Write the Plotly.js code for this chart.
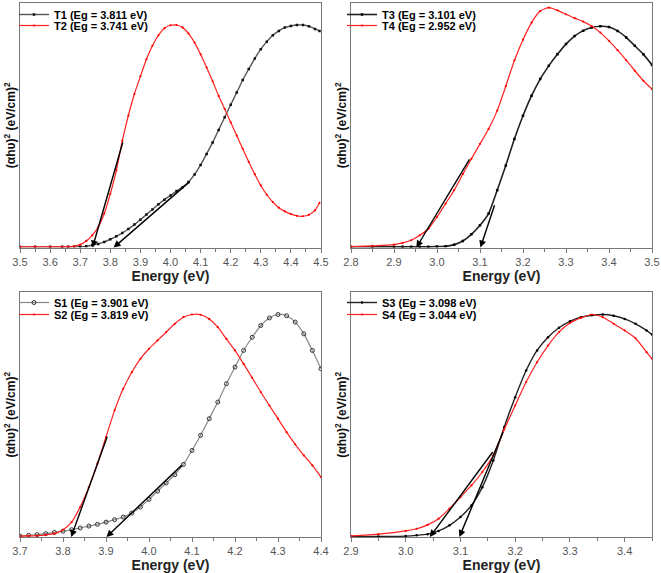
<!DOCTYPE html>
<html>
<head>
<meta charset="utf-8">
<script src="https://cdn.plot.ly/plotly-3.0.1.min.js"></script>
<style>html,body{margin:0;padding:0;background:#fff;}#chart{width:661px;height:573px;}</style>
</head>
<body>
<div id="chart"></div>
<script>
// ---------- Data (normalised (αhυ)^2, 0 = axis baseline, 1 = frame top) ----------
// Panel a (top-left): T1 / T2
const energyA = [3.50,3.55,3.60,3.64,3.66,3.68,3.70,3.72,3.74,3.76,3.78,3.80,3.82,3.84,3.86,3.88,3.90,3.92,3.94,3.96,3.98,4.00,4.02,4.04,4.06,4.08,4.10,4.12,4.14,4.16,4.18,4.20,4.22,4.24,4.26,4.28,4.30,4.32,4.34,4.36,4.38,4.40,4.42,4.44,4.46,4.48,4.495];
const t1 = [0.003,0.003,0.003,0.003,0.003,0.004,0.004,0.005,0.010,0.015,0.023,0.034,0.046,0.060,0.076,0.094,0.114,0.135,0.156,0.177,0.196,0.213,0.231,0.247,0.268,0.299,0.338,0.383,0.430,0.481,0.533,0.584,0.634,0.685,0.730,0.773,0.811,0.842,0.868,0.886,0.900,0.906,0.910,0.910,0.905,0.894,0.886];
const t2 = [0.003,0.003,0.003,0.003,0.004,0.005,0.012,0.027,0.050,0.084,0.139,0.220,0.315,0.437,0.540,0.628,0.700,0.770,0.825,0.868,0.897,0.909,0.910,0.900,0.875,0.838,0.790,0.736,0.680,0.620,0.567,0.512,0.458,0.404,0.350,0.300,0.254,0.216,0.186,0.163,0.148,0.137,0.130,0.128,0.134,0.152,0.183];

// Panel b (top-right): T3 / T4
const energyB = [2.80,2.85,2.90,2.92,2.94,2.96,2.98,3.00,3.02,3.04,3.06,3.08,3.10,3.12,3.14,3.16,3.18,3.20,3.22,3.24,3.26,3.28,3.30,3.32,3.34,3.36,3.38,3.40,3.42,3.44,3.46,3.48,3.50];
const t3 = [0.003,0.003,0.003,0.003,0.003,0.003,0.003,0.004,0.005,0.012,0.027,0.054,0.091,0.139,0.234,0.336,0.444,0.539,0.621,0.689,0.743,0.790,0.832,0.865,0.887,0.900,0.905,0.902,0.886,0.859,0.825,0.790,0.747];
const t4 = [0.004,0.007,0.012,0.019,0.030,0.050,0.077,0.125,0.180,0.235,0.300,0.363,0.424,0.485,0.560,0.660,0.765,0.850,0.920,0.967,0.981,0.970,0.954,0.938,0.924,0.905,0.879,0.845,0.807,0.766,0.723,0.682,0.648];

// Panel c (bottom-left): S1 / S2
const energyC = [3.70,3.72,3.74,3.76,3.78,3.80,3.82,3.84,3.86,3.88,3.90,3.92,3.94,3.96,3.98,4.00,4.02,4.04,4.06,4.08,4.10,4.12,4.14,4.16,4.18,4.20,4.22,4.24,4.26,4.28,4.30,4.32,4.34,4.36,4.38,4.40];
const s1 = [0.004,0.007,0.010,0.014,0.019,0.024,0.030,0.037,0.045,0.052,0.061,0.071,0.082,0.098,0.123,0.154,0.188,0.221,0.255,0.297,0.354,0.416,0.484,0.552,0.627,0.695,0.763,0.817,0.865,0.896,0.910,0.905,0.879,0.831,0.763,0.688];
const s2 = [0.004,0.005,0.006,0.009,0.014,0.030,0.061,0.123,0.204,0.300,0.409,0.518,0.606,0.674,0.729,0.770,0.804,0.838,0.872,0.899,0.910,0.909,0.892,0.858,0.810,0.763,0.708,0.651,0.593,0.538,0.484,0.429,0.379,0.334,0.293,0.245];

// Panel d (bottom-right): S3 / S4
const energyD = [2.90,2.95,3.00,3.02,3.04,3.06,3.08,3.10,3.12,3.14,3.16,3.18,3.20,3.22,3.24,3.26,3.28,3.30,3.32,3.34,3.36,3.38,3.40,3.42,3.44,3.45];
const s3 = [0.001,0.002,0.004,0.007,0.012,0.025,0.048,0.082,0.129,0.204,0.313,0.450,0.572,0.681,0.763,0.817,0.856,0.882,0.899,0.907,0.910,0.905,0.892,0.872,0.845,0.828];
const s4 = [0.005,0.012,0.025,0.034,0.050,0.075,0.116,0.163,0.211,0.266,0.334,0.440,0.538,0.634,0.715,0.783,0.838,0.875,0.896,0.910,0.899,0.872,0.845,0.813,0.756,0.729];

// Band gaps (x-intercepts of the Tauc extrapolation lines)
const sampleNames = ['T1','T2','T3','T4','S1','S2','S3','S4'];
const bandGaps    = [3.811,3.741,3.101,2.952,3.901,3.819,3.098,3.044];
// Upper end of each extrapolation line on its curve
const fitEndE = [4.068,3.843,3.135,3.0775,4.080,3.904,3.179,3.161];
const fitEndY = [0.274,0.437,0.179,0.367,0.300,0.416,0.436,0.354];

// Axis ranges
const xRanges = [[3.5,4.5],[2.8,3.5],[3.7,4.4],[2.9,3.45]];

// ---------- Build figure ----------
const W = 661, H = 573;
const colX = [[20/W, 321/W],[351/W, 652/W]];
const rowY = [[(H-247)/H, (H-2)/H],[(H-537)/H, (H-292)/H]];
const legendLeftPx = [14, 342];
const legendTopPx = [[-1, 11],[288, 300]];

const panels = [
  {x: energyA, series:[t1,t2], idx:[0,1], col:0, row:0},
  {x: energyB, series:[t3,t4], idx:[2,3], col:1, row:0},
  {x: energyC, series:[s1,s2], idx:[4,5], col:0, row:1},
  {x: energyD, series:[s3,s4], idx:[6,7], col:1, row:1}
];

const blackStyles = [
  {line:{color:'#555', width:1.4}, marker:{symbol:'square', size:2.5, color:'#111'}},
  {line:{color:'#222', width:1.6}, marker:{symbol:'square', size:2.5, color:'#000'}},
  {line:{color:'#888', width:1.2}, marker:{symbol:'circle-open', size:4, color:'#333', line:{width:1}}},
  {line:{color:'#222', width:1.4}, marker:{symbol:'circle', size:2.5, color:'#000'}}
];
const redStyle = {line:{color:'#ff2020', width:1.2}, marker:{symbol:'circle', size:2.2, color:'#ff0000'}};

const traces = [];
const annotations = [];
const layout = {
  width: W, height: H,
  margin: {l:0, r:0, t:0, b:0},
  paper_bgcolor: '#fff', plot_bgcolor: '#fff',
  showlegend: true,
  font: {family: 'Liberation Sans, Arial, sans-serif', color: '#000'}
};

panels.forEach((p, k) => {
  const sfx = k === 0 ? '' : String(k+1);
  const xa = 'x' + sfx, ya = 'y' + sfx;
  p.series.forEach((vals, j) => {
    const i = p.idx[j];
    const lg = i === 0 ? 'legend' : 'legend' + (i+1);
    const st = j === 0 ? blackStyles[k] : redStyle;
    traces.push({
      type: 'scatter', mode: 'lines+markers',
      x: p.x, y: vals, xaxis: xa, yaxis: ya, legend: lg,
      name: '<b>' + sampleNames[i] + ' (Eg = ' + bandGaps[i].toFixed(3) + ' eV)</b>',
      line: Object.assign({shape:'spline', smoothing:0.6}, st.line),
      marker: st.marker,
      hoverinfo: 'skip'
    });
    annotations.push({
      xref: xa, yref: ya, axref: xa, ayref: ya,
      x: bandGaps[i], y: 0, ax: fitEndE[i], ay: fitEndY[i],
      text: '', showarrow: true, arrowhead: 2, arrowsize: 1, arrowwidth: 1.4,
      arrowcolor: '#000', standoff: 0, startstandoff: 0
    });
    layout[lg] = {
      x: legendLeftPx[p.col]/W, y: (H - legendTopPx[p.row][j])/H,
      xanchor: 'left', yanchor: 'top',
      bgcolor: 'rgba(0,0,0,0)', borderwidth: 0,
      font: {size: 11, color: '#000'}, itemwidth: 30, tracegroupgap: 0
    };
  });
  layout['xaxis' + sfx] = {
    domain: colX[p.col], anchor: ya, range: xRanges[k], dtick: 0.1, tick0: 0,
    tickformat: '.1f',
    ticks: 'outside', ticklen: 4, tickwidth: 1, tickcolor: '#777',
    minor: {ticks: 'outside', ticklen: 3, dtick: 0.05, tickcolor: '#777', showgrid: false},
    showline: true, linecolor: '#777', linewidth: 1, mirror: true,
    showgrid: false, zeroline: false,
    tickfont: {size: 11, color: '#555'},
    title: {text: '<b>Energy (eV)</b>', font: {size: 14, color: '#222'}, standoff: 3}
  };
  layout['yaxis' + sfx] = {
    domain: rowY[p.row], anchor: xa, range: [0, 1],
    showticklabels: false, ticks: '',
    showline: true, linecolor: '#777', linewidth: 1, mirror: true,
    showgrid: false, zeroline: false,
    title: {text: '<b>(αhυ)<sup>2</sup> (eV/cm)<sup>2</sup></b>', font: {size: 12, color: '#111'}, standoff: 0}
  };
});
layout.annotations = annotations;

Plotly.newPlot('chart', traces, layout, {displayModeBar: false, staticPlot: true});
</script>
</body>
</html>
